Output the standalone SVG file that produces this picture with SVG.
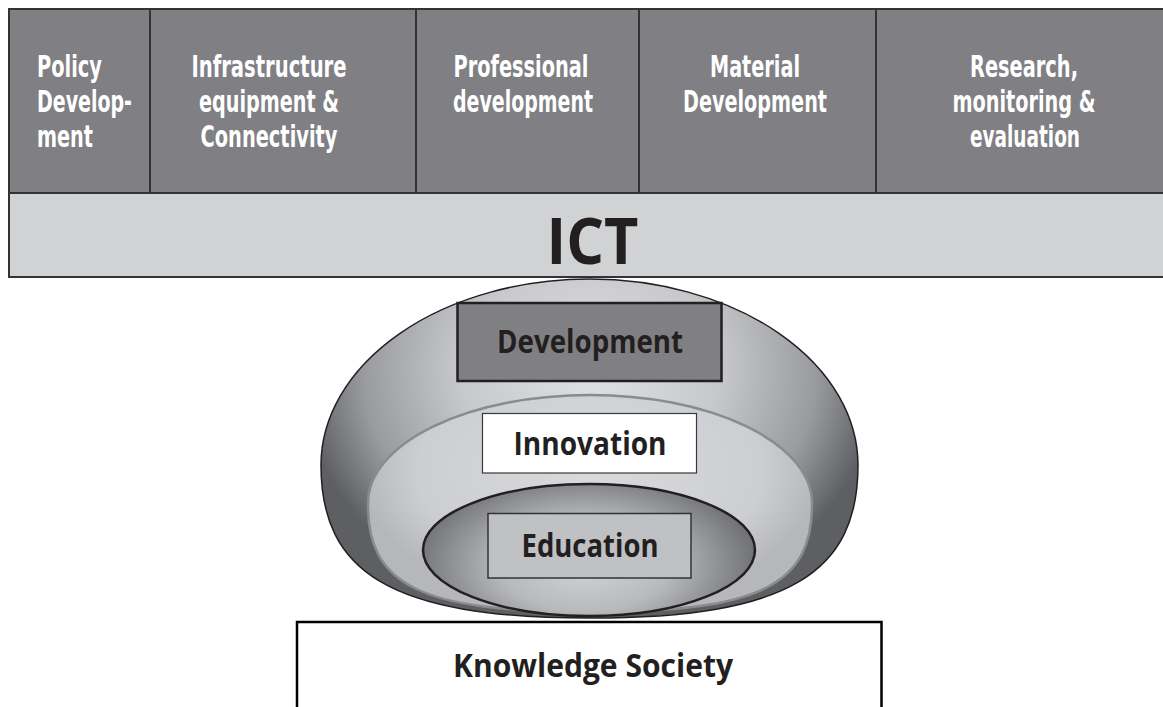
<svg xmlns="http://www.w3.org/2000/svg" width="1163" height="707" viewBox="0 0 1163 707">
  <style>
    .band { fill: #808084; stroke: #333333; stroke-width: 2; }
    .ictband { fill: #d1d2d4; stroke: #333333; stroke-width: 2; }
    .divider { stroke: #333333; stroke-width: 2; }
    .col { font-family: "Liberation Sans Narrow", "DejaVu Sans Condensed", "Liberation Sans", sans-serif; font-stretch: condensed; font-weight: bold; font-size: 31px; fill: #ffffff; }
    .lbl { font-family: "Open Sans", "Lato", "Liberation Sans", sans-serif; font-weight: bold; fill: #231f20; }
  </style>
  <defs>
    <radialGradient id="gOuter" gradientUnits="userSpaceOnUse" cx="590" cy="370" r="290" gradientTransform="translate(590 370) scale(1 0.85) translate(-590 -370)">
      <stop offset="0" stop-color="#e0e1e3"/>
      <stop offset="0.45" stop-color="#c7c8cb"/>
      <stop offset="0.78" stop-color="#9a9b9e"/>
      <stop offset="1" stop-color="#5e5f62"/>
    </radialGradient>
    <radialGradient id="gMiddle" gradientUnits="userSpaceOnUse" cx="590" cy="470" r="230" gradientTransform="translate(590 470) scale(1 0.6) translate(-590 -470)">
      <stop offset="0" stop-color="#d9dadc"/>
      <stop offset="0.75" stop-color="#cdced1"/>
      <stop offset="1" stop-color="#b6b7ba"/>
    </radialGradient>
    <radialGradient id="gInner" gradientUnits="userSpaceOnUse" cx="585" cy="565" r="170" gradientTransform="translate(585 565) scale(1 0.55) translate(-585 -565)">
      <stop offset="0" stop-color="#d3d4d6"/>
      <stop offset="0.5" stop-color="#b8b9bc"/>
      <stop offset="1" stop-color="#727376"/>
    </radialGradient>
  </defs>

  <!-- top band of activity columns -->
  <g id="columns">
    <rect class="band" x="9" y="9" width="1165" height="184"/>
    <line class="divider" x1="150" y1="9" x2="150" y2="193"/>
    <line class="divider" x1="416" y1="9" x2="416" y2="193"/>
    <line class="divider" x1="639" y1="9" x2="639" y2="193"/>
    <line class="divider" x1="876" y1="9" x2="876" y2="193"/>
  </g>
  <g id="col-policy">
    <text class="col" x="37" y="77" textLength="65" lengthAdjust="spacingAndGlyphs">Policy</text>
    <text class="col" x="37" y="112" textLength="95" lengthAdjust="spacingAndGlyphs">Develop-</text>
    <text class="col" x="37" y="147" textLength="56" lengthAdjust="spacingAndGlyphs">ment</text>
  </g>
  <g id="col-infrastructure" text-anchor="middle">
    <text class="col" x="269" y="77" textLength="155" lengthAdjust="spacingAndGlyphs">Infrastructure</text>
    <text class="col" x="269" y="112" textLength="140" lengthAdjust="spacingAndGlyphs">equipment &amp;</text>
    <text class="col" x="269" y="147" textLength="137" lengthAdjust="spacingAndGlyphs">Connectivity</text>
  </g>
  <g id="col-professional" text-anchor="middle">
    <text class="col" x="521" y="77" textLength="135" lengthAdjust="spacingAndGlyphs">Professional</text>
    <text class="col" x="523" y="112" textLength="140" lengthAdjust="spacingAndGlyphs">development</text>
  </g>
  <g id="col-material" text-anchor="middle">
    <text class="col" x="755" y="77" textLength="90" lengthAdjust="spacingAndGlyphs">Material</text>
    <text class="col" x="755" y="112" textLength="144" lengthAdjust="spacingAndGlyphs">Development</text>
  </g>
  <g id="col-research" text-anchor="middle">
    <text class="col" x="1024" y="77" textLength="108" lengthAdjust="spacingAndGlyphs">Research,</text>
    <text class="col" x="1024" y="112" textLength="143" lengthAdjust="spacingAndGlyphs">monitoring &amp;</text>
    <text class="col" x="1025" y="147" textLength="110" lengthAdjust="spacingAndGlyphs">evaluation</text>
  </g>

  <!-- ICT band -->
  <g id="ict">
    <rect class="ictband" x="9" y="193" width="1165" height="84"/>
    <text class="lbl" x="592.5" y="264" font-size="64" text-anchor="middle" textLength="92" lengthAdjust="spacingAndGlyphs">ICT</text>
  </g>

  <!-- nested bowl: development / innovation / education -->
  <g id="development">
    <path d="M321,465 A268.5,186 0 0 1 858,465 C858,572 790,618 590,618 C390,618 321,572 321,465 Z" fill="url(#gOuter)" stroke="#231f20" stroke-width="1.5"/>
    <rect x="457.5" y="303" width="264" height="78" fill="#808083" stroke="#231f20" stroke-width="2.5"/>
    <text class="lbl" x="590" y="353" font-size="32" text-anchor="middle" textLength="186" lengthAdjust="spacingAndGlyphs">Development</text>
  </g>
  <g id="innovation">
    <path d="M368,503 A222,108 0 0 1 812,503 C813,585 760,612 590,612 C420,612 367,585 368,503 Z" fill="url(#gMiddle)" stroke="#8a8b8e" stroke-width="2.5"/>
    <rect x="482.5" y="413.5" width="214" height="59.5" fill="#ffffff" stroke="#3a3a3a" stroke-width="1.2"/>
    <text class="lbl" x="590" y="455" font-size="32" text-anchor="middle" textLength="153" lengthAdjust="spacingAndGlyphs">Innovation</text>
  </g>
  <g id="education">
    <ellipse cx="589" cy="550" rx="166" ry="66" fill="url(#gInner)" stroke="#231f20" stroke-width="2.5"/>
    <rect x="488" y="513.5" width="203" height="64.5" fill="#c0c1c4" stroke="#333333" stroke-width="1.5"/>
    <text class="lbl" x="590" y="557" font-size="32" text-anchor="middle" textLength="137" lengthAdjust="spacingAndGlyphs">Education</text>
  </g>

  <!-- base -->
  <g id="knowledge-society">
    <rect x="297" y="622" width="584.5" height="100" fill="#ffffff" stroke="#000000" stroke-width="2.5"/>
    <text class="lbl" x="593" y="677" font-size="33" text-anchor="middle" textLength="280" lengthAdjust="spacingAndGlyphs">Knowledge Society</text>
  </g>
</svg>
